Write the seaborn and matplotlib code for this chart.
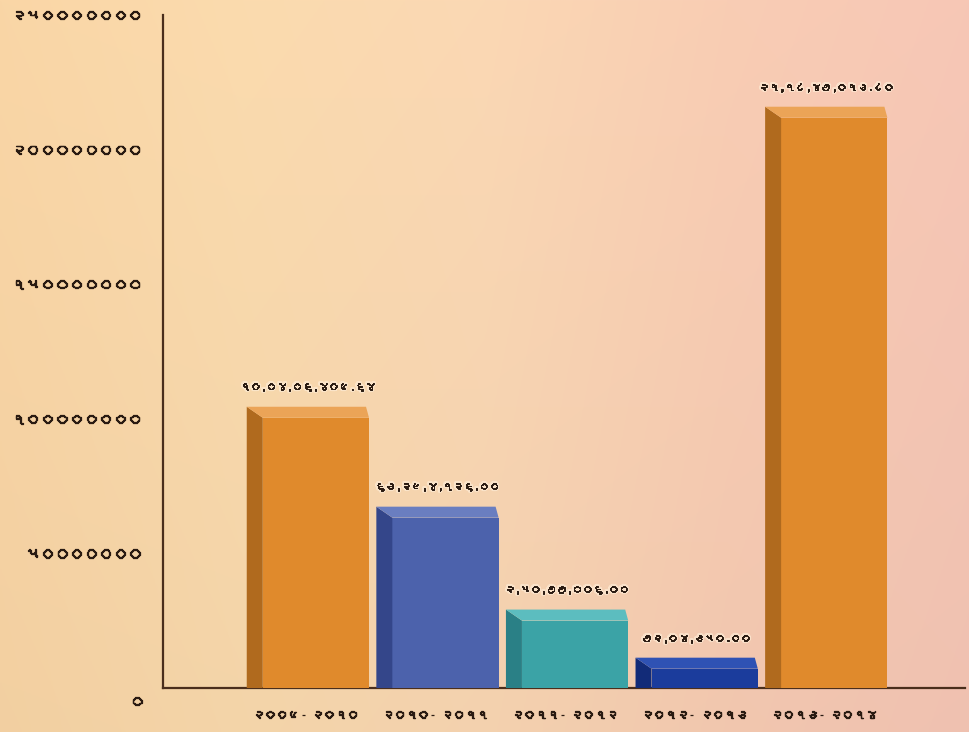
import numpy as np
import pandas as pd
import matplotlib
matplotlib.use("Agg")
import matplotlib.pyplot as plt
import matplotlib.patheffects as pe
from matplotlib import font_manager, ft2font
from matplotlib.patches import Polygon
from matplotlib.transforms import ScaledTranslation
import seaborn as sns

# ---- data -------------------------------------------------------------
years = ["૨૦૦૯- ૨૦૧૦", "૨૦૧૦- ૨૦૧૧", "૨૦૧૧- ૨૦૧૨", "૨૦૧૨- ૨૦૧૩", "૨૦૧૩- ૨૦૧૪"]
amounts = [100406409.64, 63294126.00, 25077006.00, 7204350.00, 211847013.80]
amount_labels = ["૧૦,૦૪,૦૬,૪૦૯.૬૪", "૬૩,૨૯,૪,૧૨૬.૦૦", "૨,૫૦,૭૭,૦૦૬.૦૦",
                 "૭૨,૦૪,૩૫૦.૦૦", "૨૧,૧૮,૪૭,૦૧૩.૮૦"]
y_ticks = [0, 50000000, 100000000, 150000000, 200000000, 250000000]
y_tick_labels = ["૦", "૫૦૦૦૦૦૦૦", "૧૦૦૦૦૦૦૦૦", "૧૫૦૦૦૦૦૦૦", "૨૦૦૦૦૦૦૦૦", "૨૫૦૦૦૦૦૦૦"]

front_colors = ["#E08A2C", "#4C62AC", "#3BA3A6", "#1B3C9C", "#E08A2C"]
side_colors = ["#B06A1E", "#34468A", "#2A8086", "#122B78", "#B06A1E"]
top_colors = ["#EBA457", "#6A7EC0", "#5CBDBF", "#2F52B4", "#EBA457"]


# ---- fonts: pick an installed face that covers Gujarati digits ---------
def find_family(codepoint):
    for entry in font_manager.fontManager.ttflist:
        try:
            if codepoint in ft2font.FT2Font(entry.fname).get_charmap():
                return entry.name
        except Exception:
            continue
    return None


guj = find_family(0x0AE8)
families = ([guj] if guj else []) + ["DejaVu Sans"]

sns.set_theme(style="white")
plt.rcParams["font.family"] = families

df = pd.DataFrame({"year": years, "amount": amounts})

fig = plt.figure(figsize=(9.70, 7.32), dpi=100)

# warm peach background
bg = fig.add_axes([0, 0, 1, 1], zorder=-10)
stops_x = [0.0, 0.25, 0.5, 0.75, 1.0]
stops_c = np.array([[250, 214, 166], [251, 219, 174], [251, 216, 180],
                    [249, 205, 180], [247, 199, 182]]) / 255.0
xs = np.linspace(0, 1, 400)
row = np.stack([np.interp(xs, stops_x, stops_c[:, k]) for k in range(3)], axis=-1)
ys = np.linspace(0, 1, 300)[:, None, None]
grad = row[None, :, :] * (1.0 - 0.03 * ys)
bg.imshow(np.clip(grad, 0, 1), aspect="auto", extent=[0, 1, 0, 1])
bg.set_axis_off()

ax = fig.add_axes([0.168, 0.060, 0.827, 0.9195])
ax.set_facecolor("none")

sns.barplot(data=df, x="year", y="amount", hue="year", palette=front_colors,
            order=years, hue_order=years, width=0.82, saturation=1,
            legend=False, ax=ax, zorder=3)

ax.set_xlim(-1.18, 5.01)
ax.set_ylim(0, 250000000)

# depth of the 3-D faces, given in pixels and converted to data units
fig.canvas.draw()
inv = ax.transData.inverted()
p0 = inv.transform((0, 0))
p1 = inv.transform((16, 11))
ddx, ddy = p1[0] - p0[0], p1[1] - p0[1]
tip = inv.transform((3, 0))[0] - p0[0]

text_color = "#2A1B12"
# the Gujarati face is light, so thicken its strokes a little
heavy = [pe.Stroke(linewidth=0.9, foreground=text_color), pe.Normal()]
heavy_halo = [pe.Stroke(linewidth=3, foreground="#FDEBD5", alpha=0.7),
              pe.Stroke(linewidth=0.7, foreground=text_color), pe.Normal()]

for i, bar in enumerate(ax.patches):
    x0 = bar.get_x()
    x1 = x0 + bar.get_width()
    h = bar.get_height()
    bar.set_edgecolor("none")
    side = Polygon([(x0, 0), (x0, h), (x0 - ddx, h + ddy), (x0 - ddx, -ddy * 0.4)],
                   closed=True, facecolor=side_colors[i], edgecolor="none", zorder=3)
    top = Polygon([(x0, h), (x1, h), (x1 - tip, h + ddy), (x0 - ddx, h + ddy)],
                  closed=True, facecolor=top_colors[i], edgecolor="none", zorder=3)
    ax.add_patch(side)
    ax.add_patch(top)
    ax.annotate(amount_labels[i], (x0 + (x1 - x0) / 2 - ddx / 2, h + ddy),
                xytext=(0, 11), textcoords="offset points", ha="center", va="bottom",
                fontsize=7.5, color=text_color, path_effects=heavy_halo, zorder=5)

# axes styling
for s in ["top", "right"]:
    ax.spines[s].set_visible(False)
for s in ["left", "bottom"]:
    ax.spines[s].set_color("#4A2E1C")
    ax.spines[s].set_linewidth(1.6)
    ax.spines[s].set_zorder(2)

ax.set_yticks(y_ticks)
ax.set_yticklabels([""] + y_tick_labels[1:])
ax.tick_params(axis="y", direction="in", length=9, width=1.4, color="#4A2E1C",
               pad=14, labelsize=10.5, labelcolor=text_color)
ax.set_xticks(range(len(years)))
ax.set_xticklabels(years)
ax.tick_params(axis="x", length=0, pad=16, labelsize=8.5, labelcolor=text_color)
shift = ScaledTranslation(-10 / 100, 0, fig.dpi_scale_trans)
for lab in ax.get_xticklabels():
    lab.set_transform(lab.get_transform() + shift)
for lab in ax.get_xticklabels() + ax.get_yticklabels():
    lab.set_path_effects(heavy)

# small end mark at the right end of the category axis
ax.set_xticks([5.01], minor=True)
ax.tick_params(axis="x", which="minor", direction="in", length=12, width=1.4,
               color="#4A2E1C")

# zero label sits just under the axis corner
ax.text(-0.022, -0.012, y_tick_labels[0], transform=ax.transAxes,
        ha="right", va="top", fontsize=10.5, color=text_color, path_effects=heavy)

ax.set_xlabel("")
ax.set_ylabel("")

fig.savefig("out.png", dpi=100)
